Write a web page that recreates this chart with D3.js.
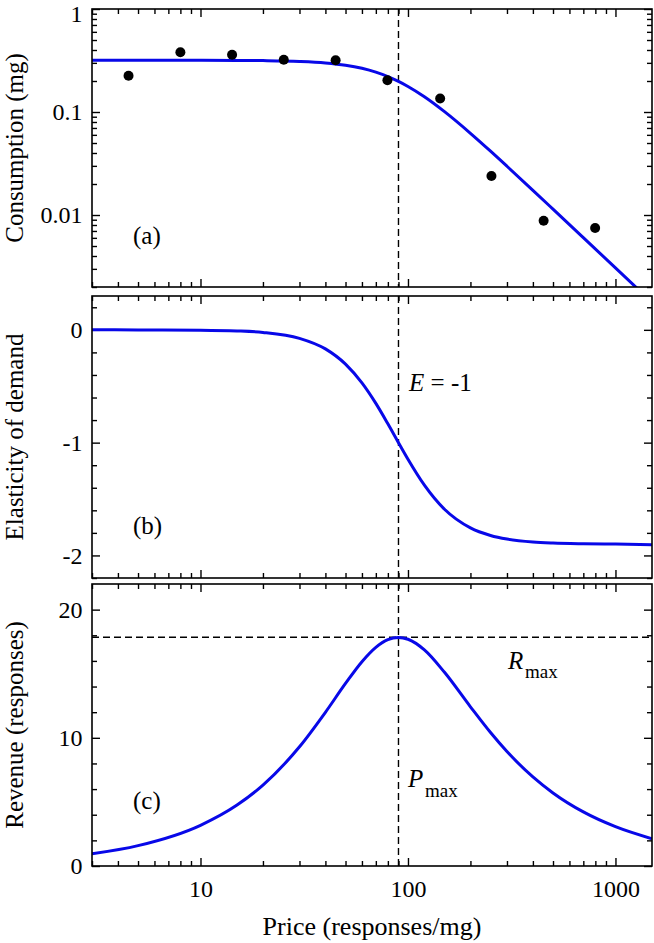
<!DOCTYPE html>
<html>
<head>
<meta charset="utf-8">
<script src="https://cdn.jsdelivr.net/npm/d3@7"></script>
<style>
  html, body { margin: 0; padding: 0; background: #fff; }
  svg { display: block; font-family: "Liberation Serif", "Times New Roman", Times, serif; }
</style>
</head>
<body>
<svg id="chart" width="654" height="943"></svg>
<script>
// ---------- data ----------
const price = [3, 5, 10, 15, 20, 30, 40, 50, 60, 70, 80, 90, 100, 120, 150, 200, 250, 300, 400, 500, 700, 1000, 1500];
const consumption = [0.3180, 0.3180, 0.3177, 0.3170, 0.3156, 0.3100, 0.2998, 0.2848, 0.2656, 0.2437, 0.2207, 0.1981, 0.1769, 0.1405, 0.1007, 0.06208, 0.04162, 0.02975, 0.01737, 0.01140, 0.006029, 0.003065, 0.001419];
const elasticity = [0, -0.0004, -0.0029, -0.0097, -0.0229, -0.0751, -0.1688, -0.304, -0.4706, -0.652, -0.8328, -1.000, -1.147, -1.377, -1.591, -1.756, -1.823, -1.855, -1.881, -1.890, -1.896, -1.899, -1.905];
const revenue = [0.954, 1.590, 3.177, 4.755, 6.312, 9.300, 11.99, 14.24, 15.94, 17.06, 17.66, 17.83, 17.69, 16.86, 15.11, 12.42, 10.41, 8.93, 6.95, 5.70, 4.22, 3.07, 2.13];

const obsPrice = [4.5, 8.0, 14.2, 25.2, 44.8, 79.6, 142.9, 252.5, 450.6, 798];
const obsConsumption = [0.225, 0.381, 0.360, 0.321, 0.318, 0.203, 0.135, 0.0239, 0.00881, 0.00748];

const pMax = 90;
const rMax = 17.85;

const xTickValues = [10, 100, 1000];
const xTickLabels = ["10", "100", "1000"];
const consTickValues = [0.01, 0.1, 1];
const consTickLabels = ["0.01", "0.1", "1"];
const elastTickValues = [-2, -1, 0];
const elastTickLabels = ["-2", "-1", "0"];
const revTickValues = [0, 10, 20];
const revTickLabels = ["0", "10", "20"];

// ---------- layout ----------
const svg = d3.select("#chart");
const FONT = "'Liberation Serif', 'Times New Roman', Times, serif";
const L = 92, R = 652;
const panels = {
  a: [9, 287],
  b: [296, 578],
  c: [584, 866]
};

const x = d3.scaleLog().domain([3, 1500]).range([L, R]);
const yA = d3.scaleLog().domain([0.002, 1]).range([panels.a[1], panels.a[0]]);
const yB = d3.scaleLinear().domain([-2.2, 0.3]).range([panels.b[1], panels.b[0]]);
const yC = d3.scaleLinear().domain([0, 22]).range([panels.c[1], panels.c[0]]);

// minor tick values
const xMinorTicks = [];
[1, 10, 100].forEach(d => { for (let k = 2; k <= 9; k++) { const v = d * k; if (v >= 3 && v < 1500 && !xTickValues.includes(v)) xMinorTicks.push(v); } });
const aMinor = [];
[0.001, 0.01, 0.1].forEach(d => { for (let k = 2; k <= 9; k++) { const v = d * k; if (v >= 0.002 && v < 1) aMinor.push(v); } });
const bMinor = d3.range(-22, 4, 2).map(v => v / 10).filter(v => Math.abs(v - Math.round(v)) > 1e-6);
const cMinor = d3.range(2, 22, 2).filter(v => v % 10 !== 0);

const MAJ = 8, MIN = 5;
const tickFont = 24;

function styleAxis(g) {
  g.attr("font-family", FONT);
  g.select(".domain").remove();
  g.selectAll(".tick line").attr("stroke", "#000").attr("stroke-width", 1.4);
  g.selectAll(".tick text").attr("font-size", tickFont).attr("font-family", FONT).attr("fill", "#000");
}

function drawPanel(key, yScale, yMaj, yMajLabels, yMin, showX) {
  const [y0, y1] = panels[key];
  const g = svg.append("g");
  g.append("g").attr("transform", `translate(0,${y1})`)
    .call(d3.axisBottom(x).tickValues(xTickValues).tickSize(-MAJ).tickPadding(14)
      .tickFormat((d, i) => showX ? xTickLabels[i] : ""))
    .call(styleAxis);
  g.append("g").attr("transform", `translate(0,${y1})`)
    .call(d3.axisBottom(x).tickValues(xMinorTicks).tickSize(-MIN).tickFormat(""))
    .call(styleAxis);
  g.append("g").attr("transform", `translate(0,${y0})`)
    .call(d3.axisTop(x).tickValues(xTickValues).tickSize(-MAJ).tickFormat(""))
    .call(styleAxis);
  g.append("g").attr("transform", `translate(0,${y0})`)
    .call(d3.axisTop(x).tickValues(xMinorTicks).tickSize(-MIN).tickFormat(""))
    .call(styleAxis);
  const left = g.append("g").attr("transform", `translate(${L},0)`)
    .call(d3.axisLeft(yScale).tickValues(yMaj).tickSize(-MAJ).tickPadding(9.5)
      .tickFormat((d, i) => yMajLabels[i]))
    .call(styleAxis);
  g.append("g").attr("transform", `translate(${L},0)`)
    .call(d3.axisLeft(yScale).tickValues(yMin).tickSize(-MIN).tickFormat(""))
    .call(styleAxis);
  g.append("g").attr("transform", `translate(${R},0)`)
    .call(d3.axisRight(yScale).tickValues(yMaj).tickSize(-MAJ).tickFormat(""))
    .call(styleAxis);
  g.append("g").attr("transform", `translate(${R},0)`)
    .call(d3.axisRight(yScale).tickValues(yMin).tickSize(-MIN).tickFormat(""))
    .call(styleAxis);

  svg.append("clipPath").attr("id", "clip-" + key)
    .append("rect").attr("x", L).attr("y", y0).attr("width", R - L).attr("height", y1 - y0);

  return left;
}

function frame(key) {
  const [y0, y1] = panels[key];
  svg.append("rect").attr("x", L).attr("y", y0).attr("width", R - L).attr("height", y1 - y0)
    .attr("fill", "none").attr("stroke", "#000").attr("stroke-width", 1.6);
}

function vDash(key) {
  const [y0, y1] = panels[key];
  svg.append("line").attr("x1", x(pMax)).attr("x2", x(pMax)).attr("y1", y0).attr("y2", y1)
    .attr("stroke", "#000").attr("stroke-width", 1.4).attr("stroke-dasharray", "7,4");
}

const blue = "#0808e8";

// ----- panel a -----
const leftA = drawPanel("a", yA, consTickValues, consTickLabels, aMinor, false);
// top label "1" sits slightly lower so it stays inside the page
leftA.selectAll(".tick text").filter(d => d === 1).attr("dy", "0.32em").attr("y", 4.5);
vDash("a");
svg.append("path")
  .datum(price.map((p, i) => [p, consumption[i]]))
  .attr("clip-path", "url(#clip-a)")
  .attr("fill", "none").attr("stroke", blue).attr("stroke-width", 3)
  .attr("d", d3.line().x(d => x(d[0])).y(d => yA(d[1])).curve(d3.curveMonotoneX));
svg.append("g").selectAll("circle")
  .data(obsPrice.map((p, i) => [p, obsConsumption[i]]))
  .join("circle")
  .attr("cx", d => x(d[0])).attr("cy", d => yA(d[1])).attr("r", 5).attr("fill", "#000");
frame("a");

// ----- panel b -----
drawPanel("b", yB, elastTickValues, elastTickLabels, bMinor, false);
vDash("b");
svg.append("path")
  .datum(price.map((p, i) => [p, elasticity[i]]))
  .attr("clip-path", "url(#clip-b)")
  .attr("fill", "none").attr("stroke", blue).attr("stroke-width", 3)
  .attr("d", d3.line().x(d => x(d[0])).y(d => yB(d[1])).curve(d3.curveMonotoneX));
frame("b");

// ----- panel c -----
drawPanel("c", yC, revTickValues, revTickLabels, cMinor, true);
vDash("c");
svg.append("line").attr("x1", L).attr("x2", R).attr("y1", yC(rMax)).attr("y2", yC(rMax))
  .attr("stroke", "#000").attr("stroke-width", 1.4).attr("stroke-dasharray", "7,4");
svg.append("path")
  .datum(price.map((p, i) => [p, revenue[i]]))
  .attr("clip-path", "url(#clip-c)")
  .attr("fill", "none").attr("stroke", blue).attr("stroke-width", 3)
  .attr("d", d3.line().x(d => x(d[0])).y(d => yC(d[1])).curve(d3.curveMonotoneX));
frame("c");

// ---------- text ----------
const titleFont = 25;
function yTitle(key, label) {
  const [y0, y1] = panels[key];
  svg.append("text")
    .attr("transform", `translate(23,${(y0 + y1) / 2}) rotate(-90)`)
    .attr("text-anchor", "middle").attr("font-size", titleFont).attr("fill", "#000")
    .text(label);
}
yTitle("a", "Consumption (mg)");
yTitle("b", "Elasticity of demand");
yTitle("c", "Revenue (responses)");

svg.append("text").attr("x", (L + R) / 2).attr("y", 935)
  .attr("text-anchor", "middle").attr("font-size", 26).attr("fill", "#000")
  .text("Price (responses/mg)");

const annFont = 25;
[["(a)", 244], ["(b)", 534], ["(c)", 809]].forEach(([t, yy]) => {
  svg.append("text").attr("x", 133).attr("y", yy).attr("font-size", annFont).attr("fill", "#000").text(t);
});

const eText = svg.append("text").attr("x", 409).attr("y", 391).attr("font-size", annFont).attr("fill", "#000");
eText.append("tspan").attr("font-style", "italic").text("E");
eText.append("tspan").text(" = -1");

const rText = svg.append("text").attr("x", 508).attr("y", 669).attr("font-size", annFont).attr("fill", "#000");
rText.append("tspan").attr("font-style", "italic").text("R");
svg.append("text").attr("x", 525).attr("y", 678).attr("font-size", 19).attr("fill", "#000").text("max");

const pText = svg.append("text").attr("x", 408).attr("y", 787).attr("font-size", annFont).attr("fill", "#000");
pText.append("tspan").attr("font-style", "italic").text("P");
svg.append("text").attr("x", 425).attr("y", 797).attr("font-size", 19).attr("fill", "#000").text("max");
</script>
</body>
</html>
